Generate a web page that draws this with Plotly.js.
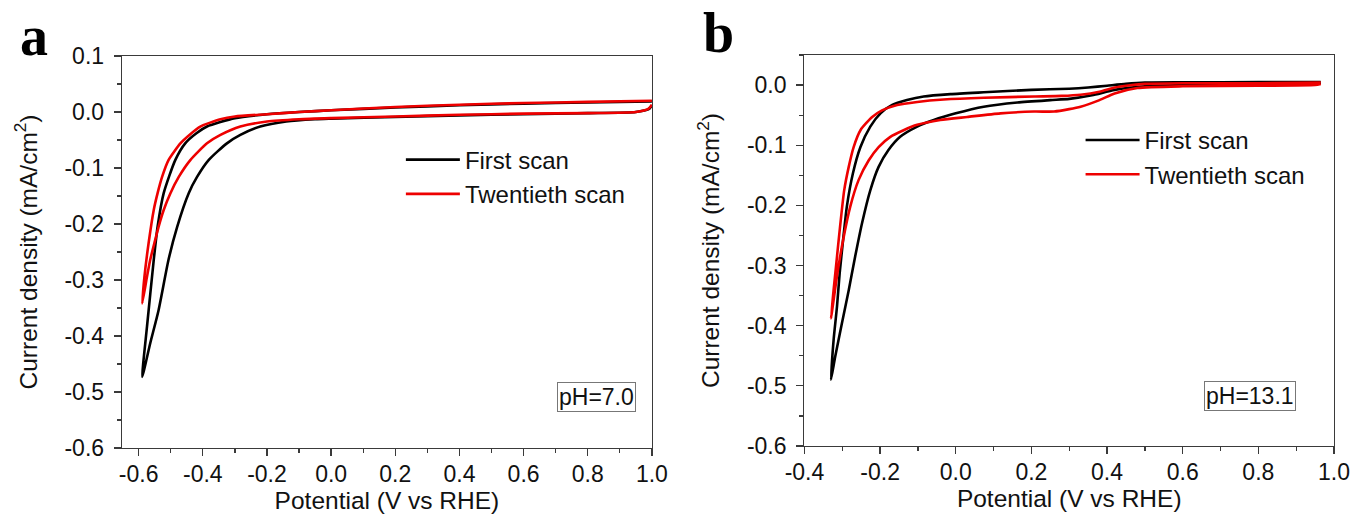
<!DOCTYPE html>
<html>
<head>
<meta charset="utf-8">
<script src="https://cdn.plot.ly/plotly-3.0.1.min.js"></script>
<style>html,body{margin:0;padding:0;background:#fff;}#chart{width:1354px;height:517px;}</style>
</head>
<body>
<div id="chart"></div>
<script>
// ---- Panel a (pH 7.0) ----
const aFirstX = [1.0, 0.8, 0.6, 0.4, 0.2, 0.0, -0.1, -0.2, -0.3, -0.387, -0.42, -0.455, -0.486, -0.522, -0.541, -0.553, -0.574, -0.589,
                 -0.564, -0.538, -0.507, -0.480, -0.444, -0.418, -0.382, -0.325, -0.283, -0.221, -0.14, -0.05, 0.0, 0.2, 0.4, 0.6, 0.8, 0.95, 0.99, 1.0];
const aFirstY = [0.019, 0.017, 0.015, 0.012, 0.008, 0.003, 0.0, -0.004, -0.011, -0.026, -0.038, -0.056, -0.086, -0.145, -0.205, -0.264, -0.383, -0.473,
                 -0.413, -0.354, -0.264, -0.205, -0.145, -0.116, -0.086, -0.056, -0.041, -0.026, -0.017, -0.013, -0.012, -0.009, -0.006, -0.004, -0.002, 0.0, 0.005, 0.012];
const aTwentX = [1.0, 0.8, 0.6, 0.4, 0.2, 0.0, -0.1, -0.2, -0.3, -0.345, -0.408, -0.44, -0.470, -0.507, -0.527, -0.541, -0.553, -0.569, -0.582, -0.589,
                 -0.574, -0.564, -0.551, -0.538, -0.522, -0.501, -0.475, -0.439, -0.387, -0.345, -0.283, -0.2, -0.1, 0.0, 0.2, 0.4, 0.6, 0.8, 0.95, 0.99, 1.0];
const aTwentY = [0.020, 0.018, 0.016, 0.013, 0.009, 0.003, 0.0, -0.004, -0.008, -0.013, -0.026, -0.040, -0.056, -0.086, -0.116, -0.145, -0.175, -0.234, -0.294, -0.342,
                 -0.294, -0.264, -0.234, -0.205, -0.175, -0.145, -0.116, -0.086, -0.056, -0.041, -0.026, -0.017, -0.013, -0.011, -0.008, -0.005, -0.003, -0.002, 0.0, 0.006, 0.013];

// ---- Panel b (pH 13.1) ----
const bFirstX = [0.965, 0.8, 0.6, 0.5, 0.45, 0.4, 0.35, 0.3, 0.2, 0.074, -0.014, -0.085, -0.129, -0.168, -0.199, -0.226, -0.252, -0.272, -0.288, -0.298, -0.307, -0.314, -0.323, -0.330,
                 -0.319, -0.301, -0.283, -0.266, -0.248, -0.226, -0.204, -0.178, -0.147, -0.102, -0.058, 0.0, 0.074, 0.163, 0.25, 0.3, 0.36, 0.42, 0.5, 0.6, 0.8, 0.95, 0.965];
const bFirstY = [0.005, 0.005, 0.0045, 0.004, 0.002, -0.001, -0.004, -0.006, -0.008, -0.012, -0.015, -0.019, -0.025, -0.033, -0.047, -0.069, -0.103, -0.147, -0.202, -0.258, -0.313, -0.368, -0.424, -0.490,
                 -0.452, -0.396, -0.341, -0.285, -0.230, -0.175, -0.136, -0.108, -0.086, -0.069, -0.058, -0.047, -0.036, -0.029, -0.025, -0.023, -0.017, -0.008, -0.002, 0.0, 0.001, 0.002, 0.004];
const bTwentX = [0.965, 0.8, 0.6, 0.5, 0.45, 0.42, 0.38, 0.33, 0.28, 0.207, 0.074, -0.032, -0.102, -0.155, -0.195, -0.221, -0.252, -0.270, -0.283, -0.295, -0.305, -0.314, -0.323, -0.330,
                 -0.313, -0.298, -0.279, -0.257, -0.230, -0.204, -0.173, -0.138, -0.102, -0.041, 0.030, 0.118, 0.207, 0.26, 0.30, 0.33, 0.38, 0.42, 0.48, 0.6, 0.8, 0.95, 0.965];
const bTwentY = [0.004, 0.003, 0.003, 0.002, -0.001, -0.004, -0.011, -0.016, -0.018, -0.019, -0.021, -0.024, -0.028, -0.033, -0.042, -0.053, -0.075, -0.103, -0.136, -0.175, -0.230, -0.285, -0.341, -0.388,
                 -0.313, -0.258, -0.202, -0.158, -0.125, -0.103, -0.086, -0.075, -0.066, -0.058, -0.053, -0.047, -0.044, -0.044, -0.040, -0.036, -0.025, -0.014, -0.005, -0.002, -0.001, 0.0, 0.002];

const seriesNames = ['First scan', 'Twentieth scan'];
const phLabels = ['pH=7.0', 'pH=13.1'];
const panelLetters = ['a', 'b'];
const xTitle = 'Potential (V vs RHE)';
const yTitle = 'Current density (mA/cm<sup>2</sup>)';
const aXTicks = [-0.6, -0.4, -0.2, 0.0, 0.2, 0.4, 0.6, 0.8, 1.0];
const bXTicks = [-0.4, -0.2, 0.0, 0.2, 0.4, 0.6, 0.8, 1.0];
const aYTicks = [0.1, 0.0, -0.1, -0.2, -0.3, -0.4, -0.5, -0.6];
const bYTicks = [0.0, -0.1, -0.2, -0.3, -0.4, -0.5, -0.6];
const aTopTicks = [-0.5, -0.3, -0.1, 0.1, 0.3, 0.5, 0.7, 0.9];

const BLACK = '#000000', RED = '#ee0000';
const FONT = 'Liberation Sans, Arial, sans-serif';
const lw = 2.6;
const lbl = v => v.toFixed(1);

function tr(x, y, name, color, xa, ya, leg) {
  return {x: x, y: y, name: name, type: 'scatter', mode: 'lines',
    line: {color: color, width: lw, shape: 'spline', smoothing: 0.6},
    xaxis: xa, yaxis: ya, legend: leg, hoverinfo: 'skip'};
}

const data = [
  tr(aFirstX, aFirstY, seriesNames[0], BLACK, 'x', 'y', 'legend'),
  tr(aTwentX, aTwentY, seriesNames[1], RED, 'x', 'y', 'legend'),
  tr(bFirstX, bFirstY, seriesNames[0], BLACK, 'x2', 'y2', 'legend2'),
  tr(bTwentX, bTwentY, seriesNames[1], RED, 'x2', 'y2', 'legend2')
];

const AX = '#3a3a3a';
function xax(domain, range, ticks, anchor) {
  return {domain: domain, range: range, anchor: anchor,
    tickmode: 'array', tickvals: ticks, ticktext: ticks.map(lbl),
    showgrid: false, zeroline: false, showline: true, linecolor: AX, linewidth: 1.3, mirror: true,
    ticks: 'outside', ticklen: 7, tickwidth: 1.3, tickcolor: AX,
    ticklabelstandoff: -2,
    minor: {tickmode: 'linear', tick0: 0, dtick: 0.1, ticks: 'outside', ticklen: 4, tickwidth: 1.3, tickcolor: AX},
    tickfont: {family: FONT, size: 23, color: '#111'},
    title: {text: xTitle, font: {family: FONT, size: 24.5, color: '#111'}, standoff: 6}};
}
function yax(domain, range, ticks, anchor) {
  return {domain: domain, range: range, anchor: anchor,
    tickmode: 'array', tickvals: ticks, ticktext: ticks.map(lbl),
    showgrid: false, zeroline: false, showline: true, linecolor: AX, linewidth: 1.3, mirror: true,
    ticks: 'outside', ticklen: 7, tickwidth: 1.3, tickcolor: AX,
    ticklabelstandoff: 5,
    minor: {tickmode: 'linear', tick0: 0, dtick: 0.05, ticks: 'outside', ticklen: 4, tickwidth: 1.3, tickcolor: AX},
    tickfont: {family: FONT, size: 23, color: '#111'},
    title: {text: yTitle, font: {family: FONT, size: 24.5, color: '#111'}, standoff: 20}};
}

const layout = {
  width: 1354, height: 517, autosize: false,
  margin: {l: 121.7, r: 20, t: 55, b: 69},
  paper_bgcolor: '#fff', plot_bgcolor: '#fff',
  font: {family: FONT, color: '#111'},
  xaxis: xax([0, 0.4372], [-0.652, 1.0], aXTicks, 'y'),
  yaxis: yax([0, 0.9975], [-0.6, 0.1], aYTicks, 'x'),
  xaxis2: xax([0.5631, 1], [-0.4, 1.0], bXTicks, 'y2'),
  yaxis2: yax([0.0051, 1], [-0.6, 0.05], bYTicks, 'x2'),
  xaxis3: {overlaying: 'x', anchor: 'y', side: 'top', range: [-0.652, 1.0],
    tickmode: 'array', tickvals: aTopTicks, showticklabels: false,
    ticks: 'outside', ticklen: 4, tickwidth: 1.3, tickcolor: AX,
    showline: false, showgrid: false, zeroline: false},
  showlegend: true,
  legend: {x: 0.2301, y: 0.79, xanchor: 'left', yanchor: 'top', bgcolor: 'rgba(0,0,0,0)',
    borderwidth: 0, itemwidth: 54, tracegroupgap: 0,
    font: {family: FONT, size: 24, color: '#111'}},
  legend2: {x: 0.7909, y: 0.84, xanchor: 'left', yanchor: 'top', bgcolor: 'rgba(0,0,0,0)',
    borderwidth: 0, itemwidth: 54, tracegroupgap: 0,
    font: {family: FONT, size: 24, color: '#111'}},
  annotations: [
    {text: phLabels[0], xref: 'paper', yref: 'paper', x: (596.5 - 121.7) / 1212.3, y: (517 - 396.5 - 69) / 393,
      xanchor: 'center', yanchor: 'middle', showarrow: false,
      font: {family: FONT, size: 23, color: '#111'}, bordercolor: '#777', borderwidth: 1, borderpad: 1},
    {text: phLabels[1], xref: 'paper', yref: 'paper', x: (1250 - 121.7) / 1212.3, y: (517 - 395.5 - 69) / 393,
      xanchor: 'center', yanchor: 'middle', showarrow: false,
      font: {family: FONT, size: 23, color: '#111'}, bordercolor: '#777', borderwidth: 1, borderpad: 1},
    {text: '<b>' + panelLetters[0] + '</b>', xref: 'paper', yref: 'paper', x: (34 - 121.7) / 1212.3, y: (517 - 36 - 69) / 393,
      xanchor: 'center', yanchor: 'middle', showarrow: false,
      font: {family: 'Liberation Serif, Times New Roman, serif', size: 56, color: '#000'}},
    {text: '<b>' + panelLetters[1] + '</b>', xref: 'paper', yref: 'paper', x: (718 - 121.7) / 1212.3, y: (517 - 33 - 69) / 393,
      xanchor: 'center', yanchor: 'middle', showarrow: false,
      font: {family: 'Liberation Serif, Times New Roman, serif', size: 56, color: '#000'}}
  ]
};

Plotly.newPlot('chart', data, layout, {staticPlot: true, displayModeBar: false});
</script>
</body>
</html>
